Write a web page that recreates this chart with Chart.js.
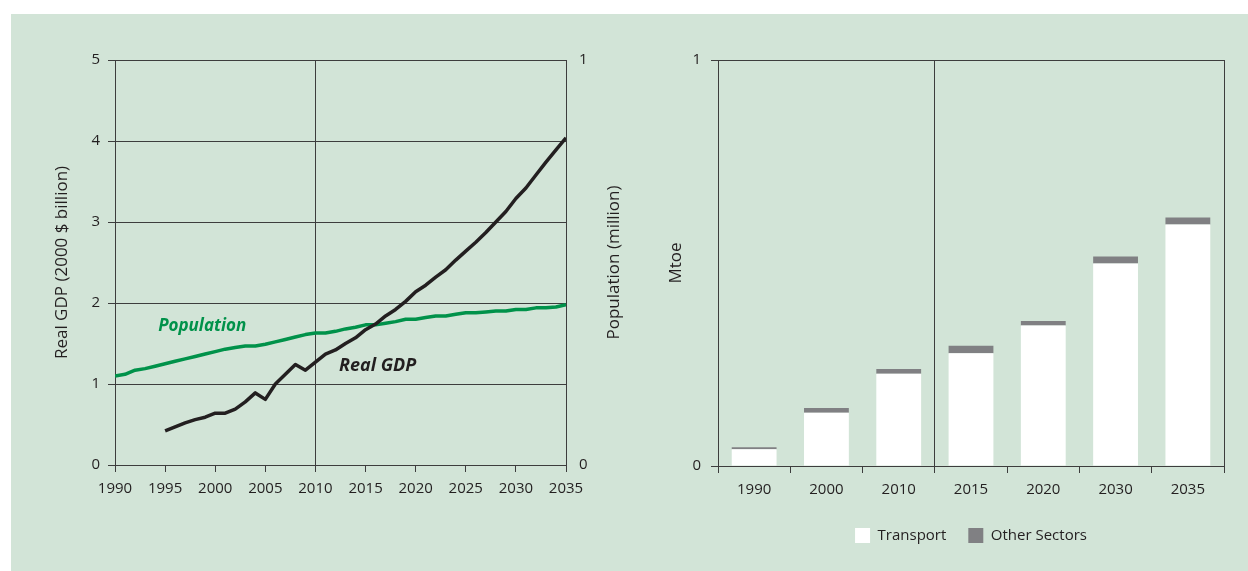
<!DOCTYPE html>
<html>
<head>
<meta charset="utf-8">
<script src="https://cdn.jsdelivr.net/npm/chart.js@4.4.1/dist/chart.umd.min.js"></script>
<style>
  html, body { margin: 0; padding: 0; background: #ffffff; }
  body { width: 1248px; height: 571px; position: relative; overflow: hidden; }
  #panel { position: absolute; left: 11px; top: 14px; width: 1237px; height: 557px; background: #d2e4d7; }
  #c1 { position: absolute; left: 0; top: 0; }
  #c2 { position: absolute; left: 640px; top: 0; }
</style>
</head>
<body>
<div id="panel"></div>
<canvas id="c1" width="640" height="571"></canvas>
<canvas id="c2" width="608" height="571"></canvas>
<script>
// ---------- Data: left chart ----------
const years = [1990,1991,1992,1993,1994,1995,1996,1997,1998,1999,2000,2001,2002,2003,2004,2005,2006,2007,2008,2009,2010,2011,2012,2013,2014,2015,2016,2017,2018,2019,2020,2021,2022,2023,2024,2025,2026,2027,2028,2029,2030,2031,2032,2033,2034,2035];
// Real GDP (2000 $ billion), 1995-2035
const gdpYears = years.slice(5);
const realGdp = [0.42,0.47,0.52,0.56,0.59,0.64,0.64,0.69,0.78,0.89,0.81,1.00,1.12,1.24,1.17,1.27,1.37,1.42,1.50,1.57,1.67,1.74,1.84,1.92,2.02,2.14,2.22,2.32,2.41,2.53,2.64,2.75,2.87,3.00,3.13,3.29,3.42,3.58,3.74,3.89,4.04];
// Population (million), 1990-2035
const population = [0.220,0.224,0.234,0.238,0.244,0.250,0.256,0.262,0.268,0.274,0.280,0.286,0.290,0.294,0.294,0.298,0.304,0.310,0.316,0.322,0.326,0.326,0.330,0.336,0.340,0.346,0.346,0.350,0.354,0.360,0.360,0.364,0.368,0.368,0.372,0.376,0.376,0.378,0.380,0.380,0.384,0.384,0.388,0.388,0.390,0.396];

// ---------- Data: right chart ----------
const barYears = ['1990','2000','2010','2015','2020','2030','2035'];
const transport = [0.041,0.131,0.227,0.278,0.346,0.499,0.595];
const otherSectors = [0.005,0.012,0.012,0.018,0.011,0.017,0.017];

const INK = '#231f20';
const GRID = '#3d3d3d';
const GREEN = '#00924a';
const GREY = '#808083';
const FONT = "'Open Sans', 'DejaVu Sans', sans-serif";

Chart.defaults.font.family = FONT;
Chart.defaults.color = INK;
Chart.defaults.animation = false;

// ---------- Left chart ----------
const seriesLabels = {
  id: 'seriesLabels',
  afterDatasetsDraw(chart) {
    const {ctx, scales} = chart;
    ctx.save();
    ctx.textAlign = 'center';
    ctx.textBaseline = 'middle';
    ctx.font = "italic bold 17px " + FONT;
    ctx.fillStyle = GREEN;
    ctx.fillText('Population', scales.x.getPixelForValue(1998.7), scales.y.getPixelForValue(1.72));
    ctx.fillStyle = INK;
    ctx.font = "italic bold 18px " + FONT;
    ctx.fillText('Real GDP', scales.x.getPixelForValue(2016.2), scales.y.getPixelForValue(1.22));
    // right axis title, rotated like the left one
    const y1 = scales.y1;
    ctx.font = "17px " + FONT;
    ctx.translate(y1.left + 48, (y1.top + y1.bottom) / 2);
    ctx.rotate(-Math.PI / 2);
    ctx.fillText('Population (million)', 0, 0);
    ctx.restore();
  }
};

new Chart(document.getElementById('c1'), {
  type: 'line',
  data: {
    datasets: [
      {
        label: 'Real GDP',
        data: gdpYears.map((yr, i) => ({x: yr, y: realGdp[i]})),
        borderColor: INK,
        borderWidth: 3.5,
        pointRadius: 0,
        yAxisID: 'y',
        borderJoinStyle: 'round'
      },
      {
        label: 'Population',
        data: years.map((yr, i) => ({x: yr, y: population[i]})),
        borderColor: GREEN,
        borderWidth: 3.5,
        pointRadius: 0,
        yAxisID: 'y1',
        borderJoinStyle: 'round'
      }
    ]
  },
  options: {
    responsive: false,
    layout: { padding: { left: 0, right: 0, top: 60, bottom: 0 } },
    plugins: { legend: { display: false }, tooltip: { enabled: false } },
    scales: {
      x: {
        type: 'linear',
        min: 1990, max: 2035,
        ticks: { stepSize: 5, callback: v => String(v), font: { size: 15 }, color: INK, padding: 8, maxRotation: 0 },
        grid: {
          color: ctx => (ctx.tick && ctx.tick.value === 2010) ? GRID : 'rgba(0,0,0,0)',
          lineWidth: 1,
          tickColor: GRID,
          tickLength: 7,
          drawTicks: true
        },
        border: { color: GRID, width: 1 },
        afterFit: s => { s.height = 106; }
      },
      y: {
        position: 'left',
        min: 0, max: 5,
        ticks: { stepSize: 1, font: { size: 15 }, color: INK, padding: 8 },
        grid: { color: GRID, lineWidth: 1, tickColor: GRID, tickLength: 7 },
        border: { color: GRID, width: 1 },
        title: { display: true, text: 'Real GDP (2000 $ billion)', font: { size: 17 }, color: INK, padding: { top: 52, bottom: 0 } },
        afterFit: s => { s.width = 115; }
      },
      y1: {
        position: 'right',
        min: 0, max: 1,
        ticks: { stepSize: 1, font: { size: 15 }, color: INK, padding: 13 },
        grid: { drawOnChartArea: false, drawTicks: false },
        border: { color: GRID, width: 1 },
        afterFit: s => { s.width = 74; }
      }
    }
  },
  plugins: [seriesLabels]
});

// ---------- Right chart ----------
new Chart(document.getElementById('c2'), {
  type: 'bar',
  data: {
    labels: barYears,
    datasets: [
      { label: 'Transport', data: transport, backgroundColor: '#ffffff', borderWidth: 0 },
      { label: 'Other Sectors', data: otherSectors, backgroundColor: GREY, borderWidth: 0 }
    ]
  },
  options: {
    responsive: false,
    layout: { padding: { left: 0, right: 24, top: 60, bottom: 18 } },
    datasets: { bar: { barPercentage: 1, categoryPercentage: 0.62 } },
    plugins: {
      tooltip: { enabled: false },
      legend: {
        display: true,
        position: 'bottom',
        fullSize: false,
        labels: { boxWidth: 15, boxHeight: 15, padding: 22, font: { size: 15 }, color: INK }
      }
    },
    scales: {
      x: {
        stacked: true,
        offset: true,
        ticks: { font: { size: 15 }, color: INK, padding: 8, maxRotation: 0 },
        grid: {
          offset: true,
          color: ctx => (ctx.type !== 'tick' || ctx.index === 3) ? GRID : 'rgba(0,0,0,0)',
          lineWidth: 1,
          tickColor: GRID,
          tickLength: 7
        },
        border: { color: GRID, width: 1 },
        afterFit: s => { s.height = 40; }
      },
      y: {
        stacked: true,
        min: 0, max: 1,
        ticks: { stepSize: 1, font: { size: 15 }, color: INK, padding: 10 },
        grid: { color: GRID, lineWidth: 1, tickColor: GRID, tickLength: 7 },
        border: { color: GRID, width: 1 },
        title: { display: true, text: 'Mtoe', font: { size: 17 }, color: INK, padding: { top: 26, bottom: 0 } },
        afterFit: s => { s.width = 78; }
      }
    }
  }
});
</script>
</body>
</html>
